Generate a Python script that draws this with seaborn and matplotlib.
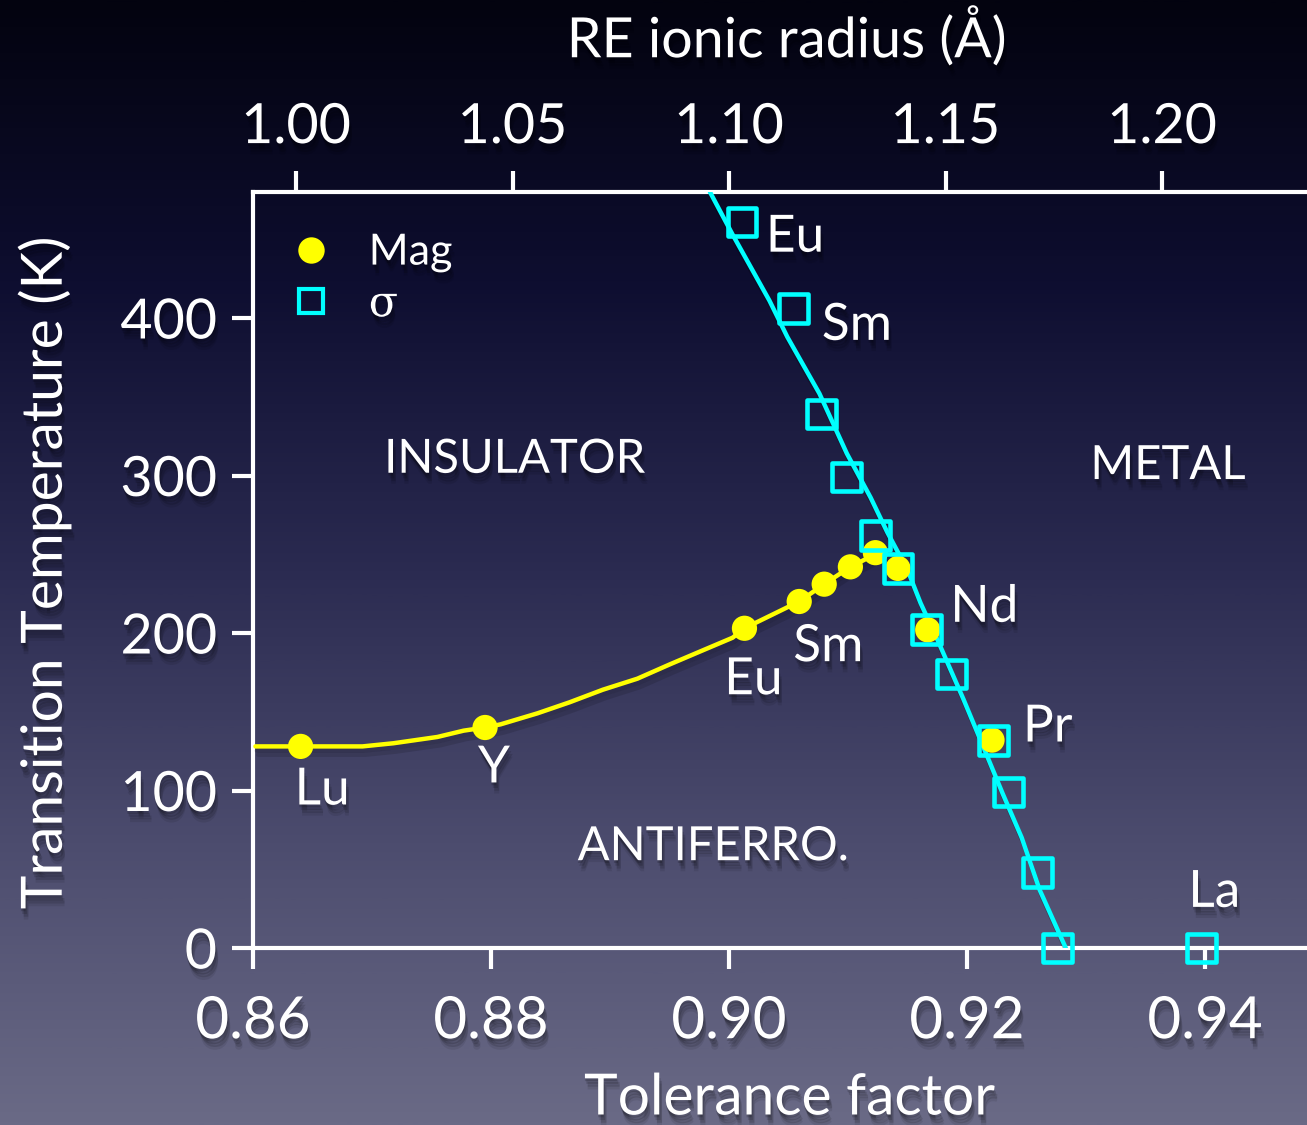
import numpy as np
import matplotlib
matplotlib.use("Agg")
import matplotlib.pyplot as plt
import matplotlib.patheffects as pe
from matplotlib.colors import LinearSegmentedColormap
from matplotlib.lines import Line2D
import seaborn as sns

# ---------------- data ----------------
mag_tol = [0.8640, 0.8795, 0.9013, 0.9059, 0.9080, 0.9102, 0.9123, 0.9142, 0.9167, 0.9221]
mag_T = [128, 140, 203, 220, 231, 242, 251, 241, 202, 132]

sigma_tol = [0.9011, 0.9054, 0.9078, 0.9099, 0.9123, 0.9142, 0.9166, 0.9187,
             0.9222, 0.9235, 0.9259, 0.9276, 0.9397]
sigma_T = [461, 406, 339, 299, 262, 241, 202, 174, 132, 99, 48, 0, 0]

mag_curve_tol = [0.8602, 0.8692, 0.8718, 0.8755, 0.8777, 0.8795, 0.8808, 0.8839, 0.8866,
                 0.8894, 0.8923, 0.8950, 0.8978, 0.9003, 0.9013, 0.9059, 0.9080, 0.9102, 0.9123]
mag_curve_T = [128, 128, 130, 134, 138, 140, 142, 149, 156, 164, 171, 180, 189, 197, 203,
               220, 231, 242, 250]

sigma_curve_tol = [0.8984, 0.9003, 0.9034, 0.9049, 0.9076, 0.9099, 0.9119, 0.9133, 0.9150,
                   0.9161, 0.9175, 0.9197, 0.9213, 0.9230, 0.9246, 0.9261, 0.9283]
sigma_curve_T = [480, 453, 411, 388, 352, 314, 286, 264, 240, 219, 196, 158, 129, 98, 70, 37, 0]

x_ticks = [0.86, 0.88, 0.90, 0.92, 0.94]
x_tick_labels = ["0.86", "0.88", "0.90", "0.92", "0.94"]
y_ticks = [0, 100, 200, 300, 400]
y_tick_labels = ["0", "100", "200", "300", "400"]
top_ticks = [1.00, 1.05, 1.10, 1.15, 1.20]
top_tick_labels = ["1.00", "1.05", "1.10", "1.15", "1.20"]

element_labels = ["Eu", "Sm", "Nd", "Pr", "La", "Eu", "Sm", "Lu", "Y"]
region_labels = ["INSULATOR", "METAL", "ANTIFERRO."]
legend_labels = ["Mag", "σ"]

# ---------------- style ----------------
sns.set_theme(style="ticks")
plt.rcParams["font.family"] = ["Lato", "DejaVu Sans"]

WHITE = "white"
YELLOW = "#ffff00"
CYAN = "#00ffff"


def soft_shadow():
    layers = []
    for off, a in [((0, -2), 0.16), ((1, -4), 0.14), ((2, -6), 0.12), ((2, -8), 0.08)]:
        layers.append(pe.SimplePatchShadow(offset=off, shadow_rgbFace="black", alpha=a))
    layers.append(pe.Normal())
    return layers


def soft_line_shadow():
    layers = []
    for off, a in [((1, -3), 0.18), ((2, -6), 0.12)]:
        layers.append(pe.SimpleLineShadow(offset=off, shadow_color="black", alpha=a))
    layers.append(pe.Normal())
    return layers


fig = plt.figure(figsize=(13.07, 11.25), dpi=100)

# background gradient
bg = fig.add_axes([0, 0, 1, 1], zorder=0)
grad = np.linspace(0, 1, 512).reshape(-1, 1)
cmap = LinearSegmentedColormap.from_list(
    "bg", [(0.0, "#03030f"), (0.25, "#0e0e30"), (0.5, "#2a2a50"), (0.75, "#4c4c6e"), (1.0, "#6a6a86")])
bg.imshow(grad, aspect="auto", cmap=cmap, extent=[0, 1, 0, 1], origin="upper")
bg.axis("off")

W, H = 1307, 1125
ax = fig.add_axes([253 / W, 1 - 948 / H, 1 - 253 / W, (948 - 192) / H], zorder=1)
ax.patch.set_alpha(0)

XMAX = 0.86 + 1054 / 11900
ax.set_xlim(0.86, XMAX)
ax.set_ylim(0, 480)

# lines
sns.lineplot(x=mag_curve_tol, y=mag_curve_T, ax=ax, color=YELLOW, lw=3.2, sort=False,
             estimator=None, path_effects=soft_line_shadow(), zorder=3)
sns.lineplot(x=sigma_curve_tol, y=sigma_curve_T, ax=ax, color=CYAN, lw=3.2, sort=False,
             estimator=None, path_effects=soft_line_shadow(), zorder=3)

# markers
sns.scatterplot(x=mag_tol, y=mag_T, ax=ax, marker="o", s=330, color=YELLOW,
                edgecolor="none", zorder=4, clip_on=False)
sns.scatterplot(x=sigma_tol, y=sigma_T, ax=ax, marker="s", s=430, facecolor="none",
                edgecolor=CYAN, linewidth=3.3, zorder=5, clip_on=False)

# spines & ticks
for s in ["top", "right"]:
    ax.spines[s].set_visible(False)
for s in ["left", "bottom"]:
    ax.spines[s].set_color(WHITE)
    ax.spines[s].set_linewidth(3)

ax.set_xticks(x_ticks)
ax.set_xticklabels(x_tick_labels)
ax.set_yticks(y_ticks)
ax.set_yticklabels(y_tick_labels)
ax.tick_params(axis="both", colors=WHITE, length=15, width=3, direction="out", labelsize=40)
ax.tick_params(axis="x", pad=19, labelsize=42)
ax.tick_params(axis="y", pad=11)
for t in ax.get_xticklabels() + ax.get_yticklabels():
    t.set_path_effects(soft_shadow())


def fwd(t):
    return 1.00 + ((np.asarray(t) - 0.86) * 11900 - 43) / 4330


def inv(r):
    return 0.86 + ((np.asarray(r) - 1.00) * 4330 + 43) / 11900


sec = ax.secondary_xaxis("top", functions=(fwd, inv))
sec.set_xticks(top_ticks)
sec.set_xticklabels(top_tick_labels)
sec.tick_params(axis="x", colors=WHITE, length=15, width=3, direction="out", labelsize=40, pad=13)
sec.spines["top"].set_color(WHITE)
sec.spines["top"].set_linewidth(3)
for t in sec.get_xticklabels():
    t.set_path_effects(soft_shadow())

# axis labels
ax.set_xlabel("Tolerance factor", fontsize=41, color=WHITE, path_effects=soft_shadow())
ax.xaxis.set_label_coords(0.5095, -0.166)
ax.set_ylabel("Transition Temperature (K)", fontsize=41, color=WHITE, path_effects=soft_shadow())
ax.yaxis.set_label_coords(-0.172, 0.497)
ax.text(0.506, 1.165, "RE ionic radius (Å)", transform=ax.transAxes, ha="center", va="bottom",
        fontsize=40, color=WHITE, path_effects=soft_shadow())

# element labels (left-aligned, vertically centred)
elem_pos = [(0.9031, 451), (0.9078, 395), (0.9186, 216), (0.9247, 140), (0.9386, 35),
            (0.8996, 170), (0.9054, 191), (0.8635, 100), (0.8789, 114)]
for lab, (xx, yy) in zip(element_labels, elem_pos):
    ax.text(xx, yy, lab, ha="left", va="center", fontsize=37, color=WHITE,
            path_effects=soft_shadow(), zorder=6)

region_pos = [(0.8820, 310), (0.9369, 306), (0.8987, 64)]
for lab, (xx, yy) in zip(region_labels, region_pos):
    ax.text(xx, yy, lab, ha="center", va="center", fontsize=34, color=WHITE,
            path_effects=soft_shadow(), zorder=6)

# legend
handles = [Line2D([0], [0], marker="o", ls="none", color=YELLOW, markersize=19, mec="none"),
           Line2D([0], [0], marker="s", ls="none", mfc="none", mec=CYAN, mew=3, markersize=17)]
leg = ax.legend(handles, legend_labels, loc="upper left", bbox_to_anchor=(0.035, 0.945),
                frameon=False, fontsize=31, handlelength=1.0, handletextpad=0.83,
                labelspacing=0.27, borderaxespad=0, borderpad=0, labelcolor=WHITE)
leg.get_texts()[1].set_fontfamily(["DejaVu Serif"])
for t in leg.get_texts():
    t.set_path_effects(soft_shadow())

fig.savefig("out.png", dpi=100)
